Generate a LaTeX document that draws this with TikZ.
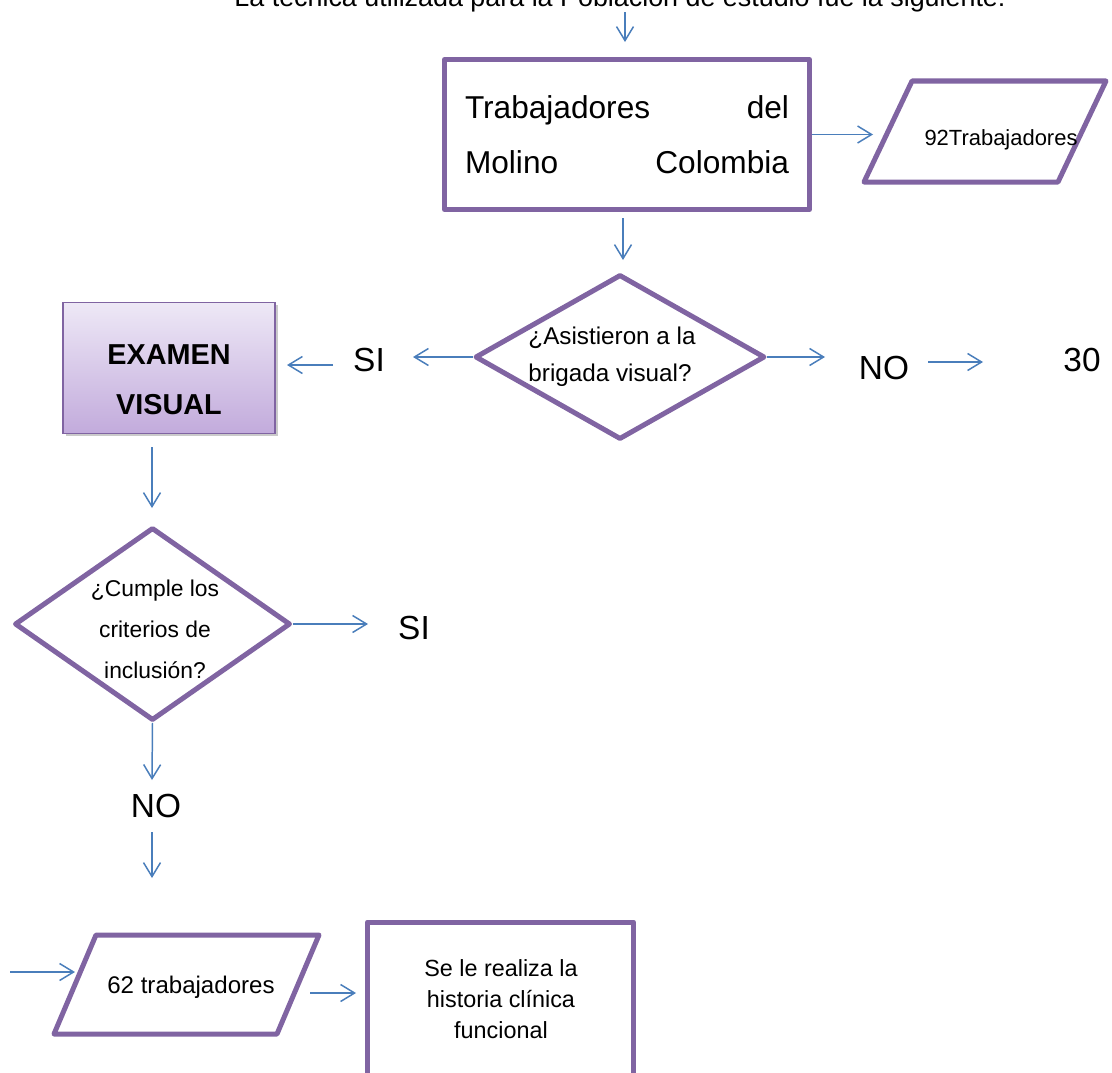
\documentclass[tikz,border=0pt]{standalone}
\usepackage{fontspec}
\setmainfont{Liberation Sans}
\usetikzlibrary{arrows.meta,shapes.geometric,shadows,calc}
\definecolor{purp}{HTML}{8064A2}
\definecolor{arrblue}{HTML}{4A7EBB}
\definecolor{exTop}{HTML}{EEE8F6}
\definecolor{exBot}{HTML}{C2ABDC}
\tikzset{
  pbox/.style={draw=purp, line width=2.85pt, line join=round},
  arr/.style={draw=arrblue, line width=0.85pt, -{Straight Barb[length=0.28cm,width=0.34cm]}},
  lbl/.style={font=\fontsize{19}{22}\selectfont, inner sep=0pt},
  txt/.style={inner sep=0pt, align=center},
}
\begin{document}
\begin{tikzpicture}[x=0.02cm,y=-0.02cm]
\useasboundingbox (0,0) rectangle (1112,1072);
\clip (0,0) rectangle (1112,1072);

% title (cut at the top)
\node[anchor=base, font=\fontsize{15.3}{18}\selectfont, inner sep=0pt] (title) at (620,6)
  {La técnica utilizada para la Población de estudio fue la siguiente:};
\coordinate (a0s) at (625,12);
\coordinate (a0e) at (625,42);
\draw[arr] (a0s) -- (a0e);

% box 1
\node[pbox, minimum width=7.3cm, minimum height=3cm, inner sep=0pt,
      font=\fontsize{18}{31.3}\selectfont, align=center] (box1) at (627,134.5)
  {\makebox[6.48cm]{Trabajadores\hfill del}\\\makebox[6.48cm]{Molino\hfill Colombia}};

% parallelogram 92
\coordinate (p92c) at (985,131.5);
\draw[pbox] ($(p92c)+(-73,-50.5)$) -- ++(194,0) -- ++(-48,101) -- ++(-194,0) -- cycle;
\node[txt, font=\fontsize{12.5}{15}\selectfont] (p92) at (1001,140) {92Trabajadores};
\coordinate (a1e) at (873,134.5);
\draw[arr] (box1.east) -- (a1e);

% arrow down to diamond 1
\coordinate (a2s) at (623,218);
\coordinate (a2e) at (623,260);
\draw[arr] (a2s) -- (a2e);

% diamond 1
\node[pbox, diamond, minimum width=5.8cm, minimum height=3.3cm, inner sep=0pt] (d1) at (620,357) {};
\node[inner sep=0pt, align=left, font=\fontsize{13.8}{21}\selectfont] (d1t) at (612,357)
  {¿Asistieron a la\\brigada visual?};

% left branch SI
\coordinate (a3e) at (413,357);
\draw[arr] (d1.west) -- (a3e);
\node[lbl] (si1) at (369,360) {SI};
\coordinate (a4s) at (333,365);
\coordinate (a4e) at (287,365);
\draw[arr] (a4s) -- (a4e);

% EXAMEN VISUAL
\node[draw=purp, line width=0.9pt, top color=exTop, bottom color=exBot,
      drop shadow={shadow xshift=1.6pt, shadow yshift=-1.6pt, opacity=0.35, fill=black!60},
      minimum width=4.25cm, minimum height=2.62cm, inner sep=0pt] (ex) at (169,368) {};
\node[txt, font=\bfseries\fontsize{16.4}{28.5}\selectfont] (ext) at (169,380) {EXAMEN\\VISUAL};

% right branch NO
\coordinate (a6e) at (825,357);
\draw[arr] (d1.east) -- (a6e);
\node[lbl] (no1) at (884,368) {NO};
\coordinate (a7s) at (928,362);
\coordinate (a7e) at (983,362);
\draw[arr] (a7s) -- (a7e);
\node[lbl] (n30) at (1082,360) {30};

% down from EXAMEN
\coordinate (a8s) at (152,447);
\coordinate (a8e) at (152,508);
\draw[arr] (a8s) -- (a8e);

% diamond 2
\node[pbox, diamond, minimum width=5.52cm, minimum height=3.86cm, inner sep=0pt] (d2) at (152.5,624) {};
\node[txt, font=\fontsize{13}{23.3}\selectfont] (d2t) at (155,629)
  {¿Cumple los\\criterios de\\inclusión?};
\coordinate (a9e) at (368,624);
\draw[arr] (d2.east) -- (a9e);
\node[lbl] (si2) at (414,628) {SI};

\coordinate (a10e) at (152,780);
\draw[arr] (d2.south) -- (a10e);
\node[lbl] (no2) at (156,806) {NO};
\coordinate (a11s) at (152,832);
\coordinate (a11e) at (152,878);
\draw[arr] (a11s) -- (a11e);

% parallelogram 62
\coordinate (a12s) at (10,972);
\coordinate (a12e) at (75,972);
\draw[arr] (a12s) -- (a12e);
\coordinate (p62c) at (186.5,984.5);
\draw[pbox] ($(p62c)+(-90.5,-49.5)$) -- ++(223,0) -- ++(-42,99) -- ++(-223,0) -- cycle;
\node[txt, font=\fontsize{13.7}{16}\selectfont] (p62) at (191,987) {62 trabajadores};
\coordinate (a13s) at (310,993);
\coordinate (a13e) at (356,993);
\draw[arr] (a13s) -- (a13e);

% box 3 (cut at the bottom)
\node[pbox, minimum width=5.32cm, minimum height=4cm, anchor=north, inner sep=0pt] (box3) at (500.5,919.5) {};
\node[txt, font=\fontsize{13.3}{17.6}\selectfont] (b3t) at (501,999)
  {Se le realiza la\\historia clínica\\funcional};
\end{tikzpicture}
\end{document}
